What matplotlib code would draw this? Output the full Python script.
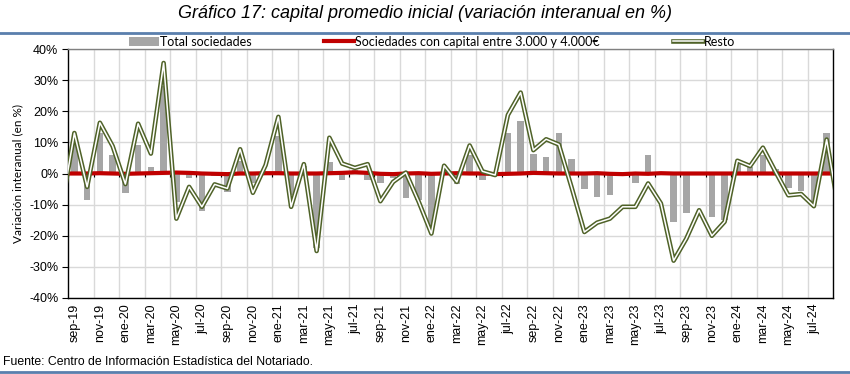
# -*- coding:utf-8 -*-
import numpy as np
import matplotlib
matplotlib.use('Agg')
import matplotlib.pyplot as plt
import matplotlib.patheffects as pe
from matplotlib.patches import Patch
from matplotlib.lines import Line2D

'''
    Gráfico 17: capital promedio inicial (variación interanual en %)
    serie mensual ago-19 .. sep-24, el eje muestra sep-19 .. ago-24
'''

meses = ['ago-19', 'sep-19', 'oct-19', 'nov-19', 'dic-19',
         'ene-20', 'feb-20', 'mar-20', 'abr-20', 'may-20', 'jun-20', 'jul-20', 'ago-20', 'sep-20', 'oct-20', 'nov-20', 'dic-20',
         'ene-21', 'feb-21', 'mar-21', 'abr-21', 'may-21', 'jun-21', 'jul-21', 'ago-21', 'sep-21', 'oct-21', 'nov-21', 'dic-21',
         'ene-22', 'feb-22', 'mar-22', 'abr-22', 'may-22', 'jun-22', 'jul-22', 'ago-22', 'sep-22', 'oct-22', 'nov-22', 'dic-22',
         'ene-23', 'feb-23', 'mar-23', 'abr-23', 'may-23', 'jun-23', 'jul-23', 'ago-23', 'sep-23', 'oct-23', 'nov-23', 'dic-23',
         'ene-24', 'feb-24', 'mar-24', 'abr-24', 'may-24', 'jun-24', 'jul-24', 'ago-24', 'sep-24']

# total sociedades (barras), nan = fuera del eje
total = [np.nan,
         11, -8.5, 13, 6,
         -6.4, 9, 2, 28, -9, -1.5, -12, -0.8, -6, 4, -3, 0.5,
         12, -7, 2.5, -24, 3.8, -2, 1, -2, -3, -1.5, -8, -8.6,
         -17, 1, -3.5, 6, -2, -0.5, 13, 17, 6.4, 5.4, 13, 4.5,
         -5, -7.5, -7, 0, -3.2, 5.8, -0.3, -15.5, -12.6, -0.5, -14, -15,
         3, 2, 6, 1.5, -4.8, -5.6, -9, 13,
         np.nan]

# sociedades con capital entre 3.000 y 4.000 euros
capital_3000 = [0.0,
                0.0, 0.0, 0.1, 0.0,
                -0.1, 0.0, 0.1, 0.2, 0.3, 0.2, 0.0, -0.1, -0.2, 0.0, 0.0, 0.1,
                0.1, 0.0, 0.0, 0.0, 0.1, 0.2, 0.4, 0.2, -0.1, -0.2, 0.0, 0.1,
                -0.1, 0.0, 0.1, 0.0, 0.0, -0.2, -0.1, 0.0, 0.2, 0.1, 0.0, 0.0,
                0.0, 0.1, -0.1, -0.2, 0.0, -0.1, 0.1, 0.0, 0.0, 0.0, 0.0, 0.0,
                0.0, 0.0, 0.0, 0.0, 0.0, 0.0, 0.0, 0.0,
                0.0]

# resto
resto = [-11,
         13, -4.3, 16.3, 8.8,
         -3.4, 16, 6.4, 35.5, -14.5, -4.3, -10.7, -3.5, -4.8, 7.8, -6.2, 2.7,
         18.2, -10.7, 3, -24.9, 11.5, 3.2, 1.8, 3, -8.9, -2.7, 0.3, -9,
         -19.3, 2.5, -2.7, 9, 0.7, -0.5, 18.8, 26, 7.5, 11, 9.3, -4.5,
         -18.8, -15.8, -14.5, -10.7, -10.7, -3.2, -9.6, -28, -20.9, -11.8, -20, -15.5,
         4.1, 2.4, 8.3, 0.5, -7, -6.6, -10.5, 10.9,
         -13]

x = np.arange(len(meses)) - 1  # sep-19 = 0
n_visible = len(meses) - 2

azul = '#5A7FAD'
gris = '#A6A6A6'
rojo = '#C00000'
oliva = '#4F6228'

plt.rcParams['font.family'] = ['Liberation Sans', 'DejaVu Sans']

fig = plt.figure(figsize=(8.5, 3.74), dpi=100)
ax = fig.add_axes([68 / 850, 1 - 298 / 374, 765 / 850, 249 / 374])

# rejilla
for v in np.arange(-40, 41, 10):
    ax.axhline(v, color='#D9D9D9', lw=1.0, zorder=0)
limites = np.arange(1.5, n_visible - 1, 2)
for b in limites:
    ax.axvline(b, color='#D9D9D9', lw=1.0, zorder=0)

ax.bar(x, total, width=0.5, color=gris, zorder=2)

# marcas del eje en el 0
ax.vlines(limites, -1.0, 0, color='black', lw=0.8, zorder=2)

ax.plot(x, capital_3000, color=rojo, lw=3.0, zorder=3, solid_capstyle='butt')

doble = [pe.Stroke(linewidth=3.3, foreground=oliva), pe.Normal()]
ax.plot(x, resto, color='white', lw=1.1, zorder=4, path_effects=doble)

ax.set_xlim(-0.5, n_visible - 0.5)
ax.set_ylim(-40, 40)
ax.set_yticks(np.arange(-40, 41, 10))
ax.set_yticklabels(['%d%%' % v for v in np.arange(-40, 41, 10)], fontsize=9)

pos = np.arange(0, n_visible, 2)
ax.set_xticks(pos)
ax.set_xticklabels([meses[p + 1] for p in pos], rotation=90, fontsize=9)
ax.tick_params(axis='x', length=0, pad=4)
ax.tick_params(axis='y', length=4, width=0.8, pad=3)

for s in ['left', 'bottom', 'right']:
    ax.spines[s].set_color('black')
    ax.spines[s].set_linewidth(1.0)
ax.spines['top'].set_color('#808080')
ax.spines['top'].set_linewidth(1.0)

ax.set_ylabel('Variación interanual (en %)', fontsize=8.5, family=['Lato', 'DejaVu Sans'], labelpad=4)

# leyenda
handles = [Patch(facecolor=gris, edgecolor='none'),
           Line2D([], [], color=rojo, lw=3.0),
           Line2D([], [], color='white', lw=1.1, path_effects=doble)]
etiquetas = ['Total sociedades', 'Sociedades con capital entre 3.000 y 4.000€', 'Resto']
fig.legend(handles, etiquetas, loc='center', bbox_to_anchor=(432 / 850, 1 - 42 / 374), ncol=3,
           frameon=False, prop={'family': ['Lato', 'DejaVu Sans'], 'size': 9},
           handlelength=2.4, handletextpad=0.1, columnspacing=5.8, handleheight=0.8)

# titulo y fuente
fig.text(425 / 850, 1 - 13 / 374, 'Gráfico 17: capital promedio inicial (variación interanual en %)',
         ha='center', va='center', fontsize=13, style='italic',
         family=['Liberation Sans Narrow', 'Liberation Sans', 'DejaVu Sans'])
fig.add_artist(Line2D([0, 1], [1 - 33 / 374, 1 - 33 / 374], color=azul, lw=2.0, transform=fig.transFigure))
fig.add_artist(Line2D([0, 1], [1 - 372 / 374, 1 - 372 / 374], color=azul, lw=2.0, transform=fig.transFigure))
fig.text(3 / 850, 1 - 362 / 374, 'Fuente: Centro de Información Estadística del Notariado.',
         ha='left', va='center', fontsize=8.8,
         family=['Liberation Sans Narrow', 'Liberation Sans', 'DejaVu Sans'])

fig.savefig('out.png', dpi=100)
plt.close(fig)
